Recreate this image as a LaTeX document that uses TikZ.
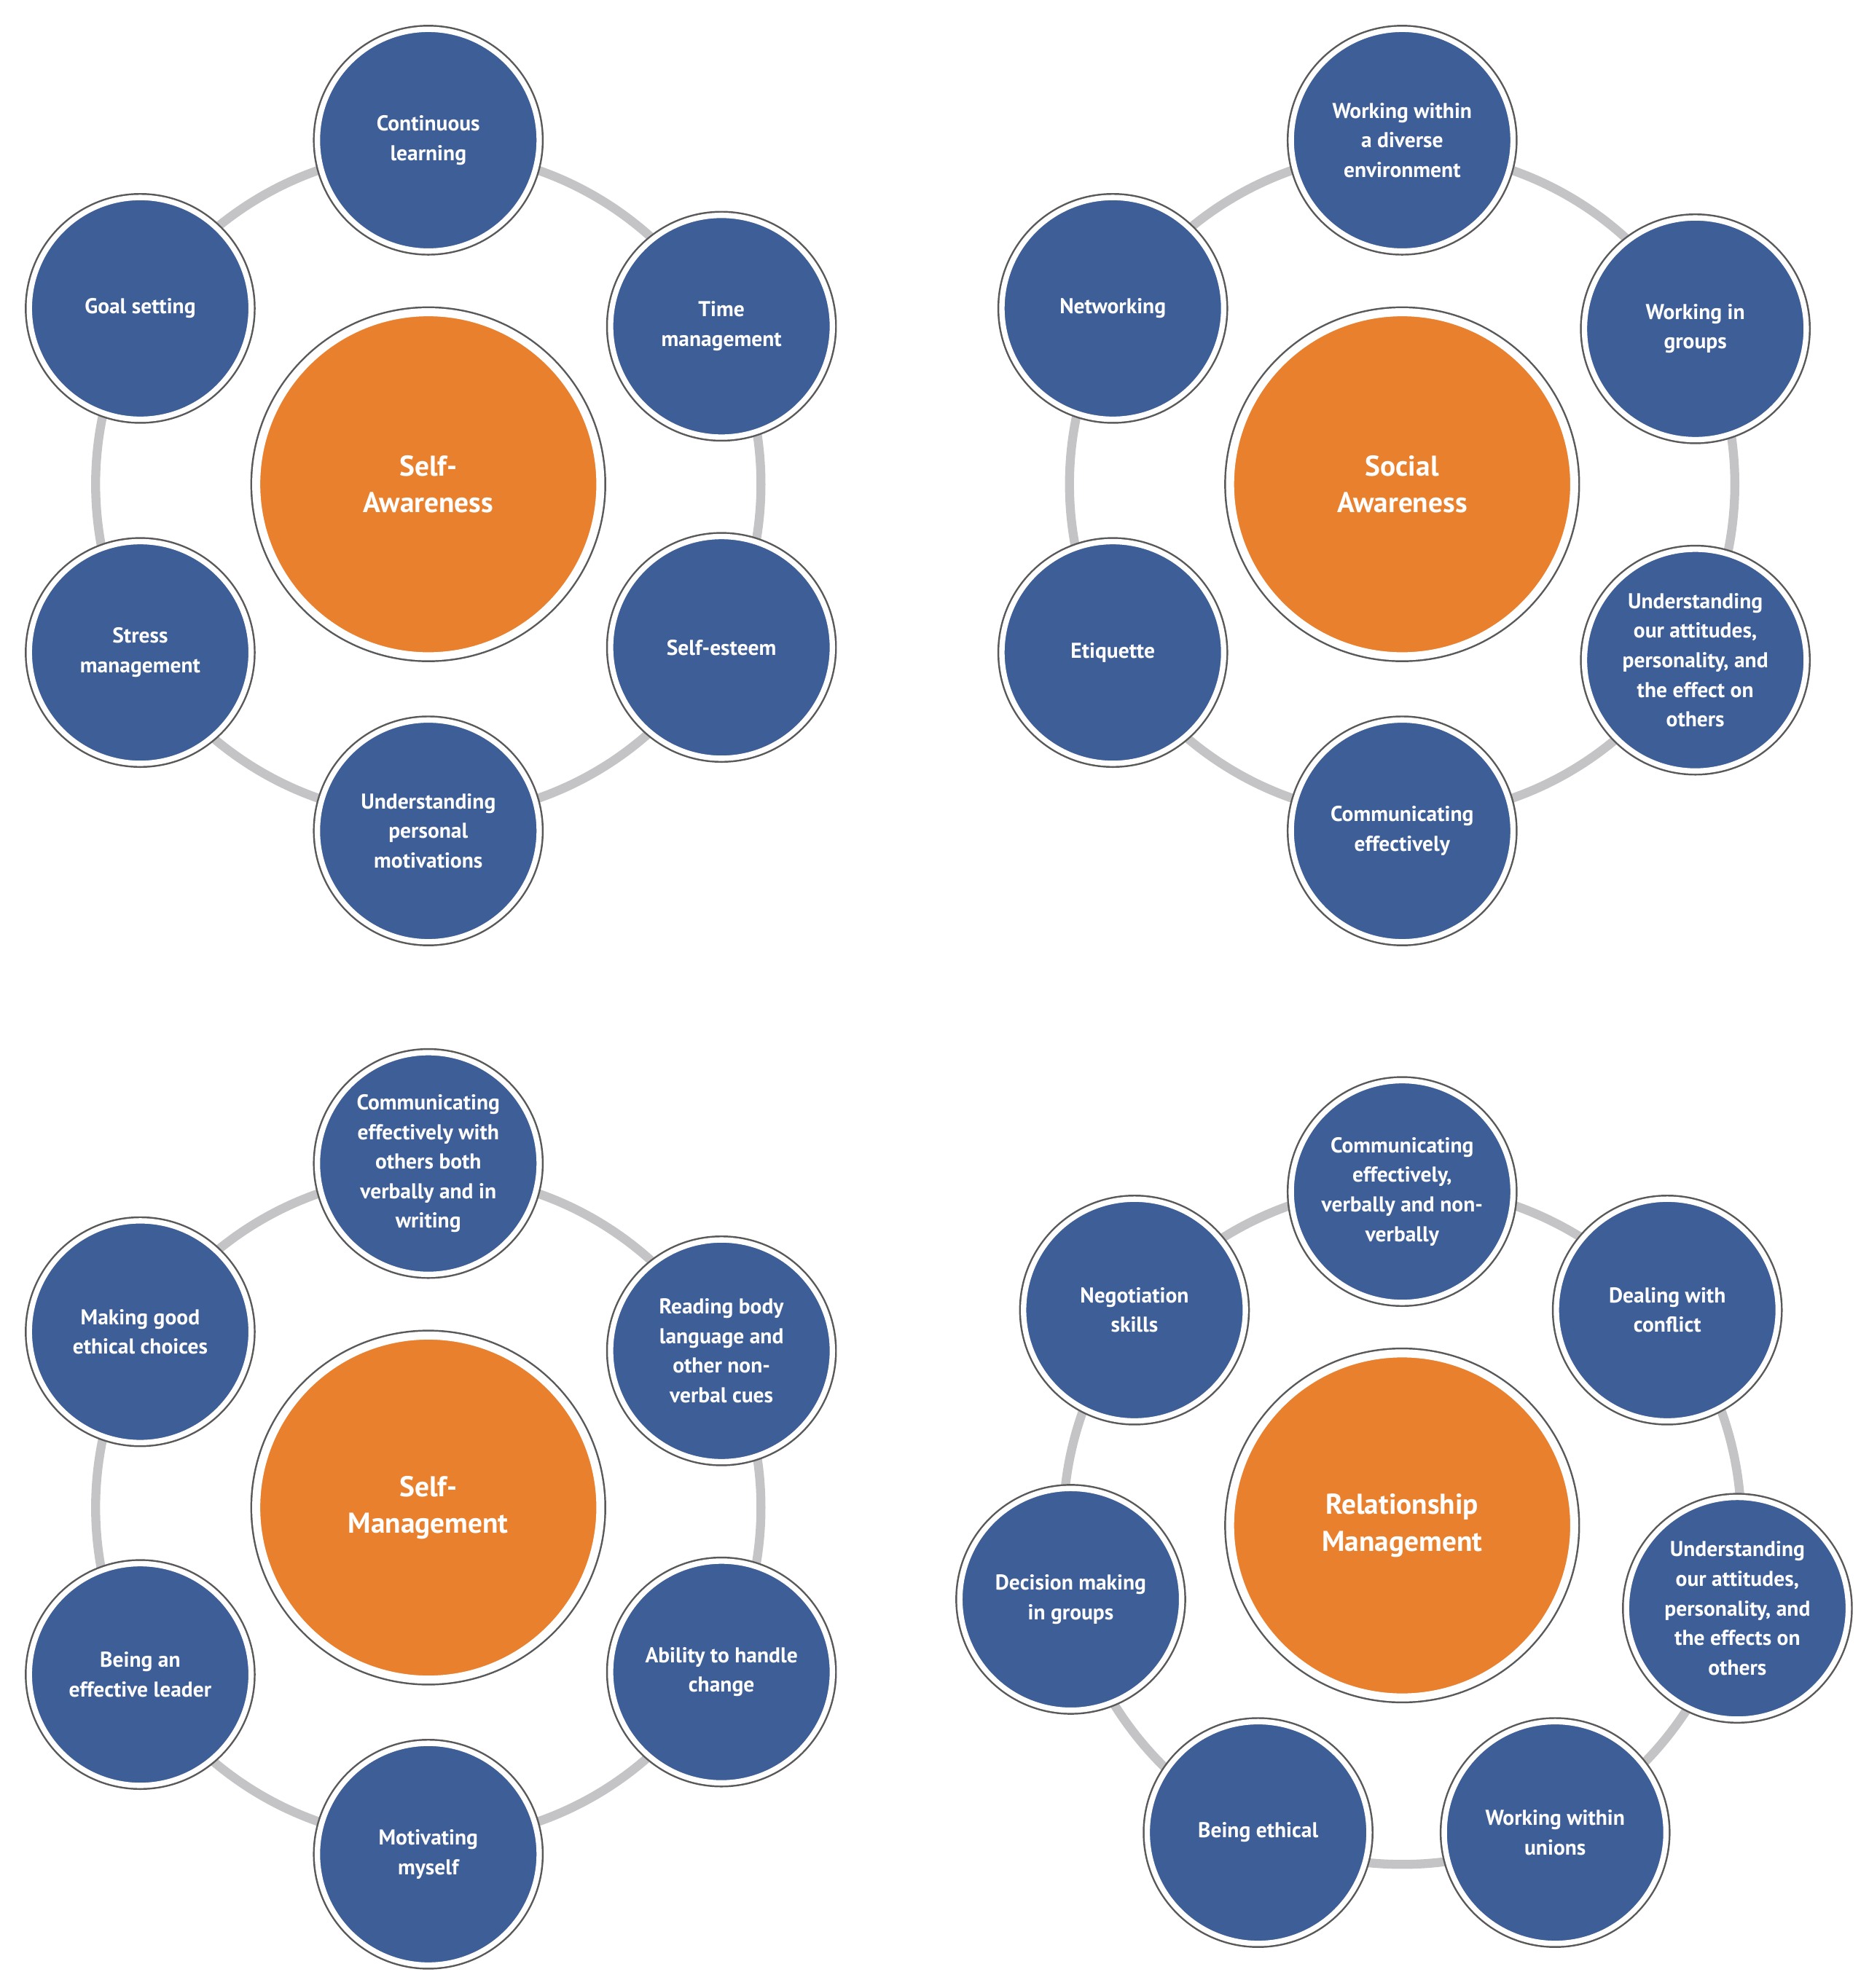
\documentclass[tikz,border=0pt]{standalone}
\usepackage{fontspec}
\setmainfont{PT Sans}
\definecolor{sblue}{HTML}{3D5E96}
\definecolor{sorange}{HTML}{E8802E}
\definecolor{sring}{HTML}{C4C4C6}
\begin{document}
\begin{tikzpicture}[x=0.05cm,y=-0.05cm,
  sat/.style={circle,fill=sblue,draw=white,line width=6pt,minimum size=8.7cm,inner sep=0pt,
    preaction={draw=black!65,line width=10pt},text=white,align=center,
    font=\bfseries\fontsize{24}{33}\selectfont},
  hub/.style={circle,fill=sorange,draw=white,line width=9pt,minimum size=13.5cm,inner sep=0pt,
    preaction={draw=black!65,line width=13pt},text=white,align=center,
    font=\bfseries\fontsize{32}{41}\selectfont},
  ring/.style={draw=sring,line width=10pt}]
\useasboundingbox (0,0) rectangle (1466,1560);
% Panel 1
\coordinate (p1) at (336,380);
\draw[ring] (p1) circle[radius=13.05cm];
\node[sat] (a1) at (336,110) {Continuous\\learning};
\node[sat] (a2) at (566,256) {Time\\management};
\node[sat] (a3) at (566,508) {Self-esteem};
\node[sat] (a4) at (336,652) {Understanding\\personal\\motivations};
\node[sat] (a5) at (110,512) {Stress\\management};
\node[sat] (a6) at (110,242) {Goal setting};
\node[hub] (h1) at (p1) {Self-\\Awareness};
% Panel 2
\coordinate (p2) at (1100,380);
\draw[ring] (p2) circle[radius=13.05cm];
\node[sat] (b1) at (1100,110) {Working within\\a diverse\\environment};
\node[sat] (b2) at (1330,258) {Working in\\groups};
\node[sat] (b3) at (1330,518) {Understanding\\our attitudes,\\personality, and\\the effect on\\others};
\node[sat] (b4) at (1100,652) {Communicating\\effectively};
\node[sat] (b5) at (873,512) {Etiquette};
\node[sat] (b6) at (873,242) {Networking};
\node[hub] (h2) at (p2) {Social\\Awareness};
% Panel 3
\coordinate (p3) at (336,1183);
\draw[ring] (p3) circle[radius=13.05cm];
\node[sat] (c1) at (336,913) {Communicating\\effectively with\\others both\\verbally and in\\writing};
\node[sat] (c2) at (566,1060) {Reading body\\language and\\other non-\\verbal cues};
\node[sat] (c3) at (566,1312) {Ability to handle\\change};
\node[sat] (c4) at (336,1455) {Motivating\\myself};
\node[sat] (c5) at (110,1314) {Being an\\effective leader};
\node[sat] (c6) at (110,1045) {Making good\\ethical choices};
\node[hub] (h3) at (p3) {Self-\\Management};
% Panel 4
\coordinate (p4) at (1100,1197);
\draw[ring] (p4) circle[radius=13.3cm];
\node[sat] (d1) at (1100,935) {Communicating\\effectively,\\verbally and non-\\verbally};
\node[sat] (d2) at (1308,1028) {Dealing with\\conflict};
\node[sat] (d3) at (1363,1262) {Understanding\\our attitudes,\\personality, and\\the effects on\\others};
\node[sat] (d4) at (1220,1438) {Working within\\unions};
\node[sat] (d5) at (987,1438) {Being ethical};
\node[sat] (d6) at (840,1255) {Decision making\\in groups};
\node[sat] (d7) at (890,1028) {Negotiation\\skills};
\node[hub] (h4) at (p4) {Relationship\\Management};
\end{tikzpicture}
\end{document}
